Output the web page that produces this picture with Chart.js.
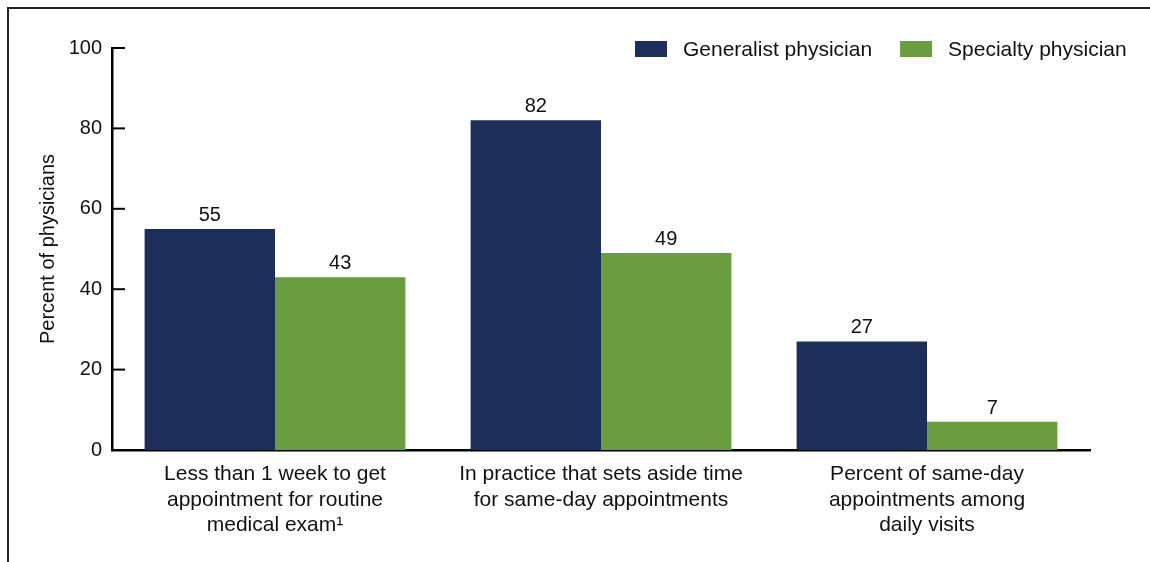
<!DOCTYPE html>
<html>
<head>
<meta charset="utf-8">
<script src="https://cdn.jsdelivr.net/npm/chart.js@4.4.1/dist/chart.umd.min.js"></script>
<style>
  body { margin: 0; background: #fff; }
  #wrap { position: relative; width: 1150px; height: 562px; }
  #frame { position: absolute; left: 7px; top: 7px; right: 0; bottom: 0; border-top: 2px solid #222; border-left: 2px solid #222; }
  canvas { position: absolute; left: 0; top: 0; }
</style>
</head>
<body>
<div id="wrap">
  <div id="frame"></div>
  <canvas id="chart" width="1150" height="562"></canvas>
</div>
<script>
// categorías y valores (porcentaje de médicos)
const categories = [
    ['Less than 1 week to get', 'appointment for routine', 'medical exam\u00B9'],
    ['In practice that sets aside time', 'for same-day appointments'],
    ['Percent of same-day', 'appointments among', 'daily visits']
];
const generalist = [55, 82, 27];
const specialty = [43, 49, 7];
const yTicks = [0, 20, 40, 60, 80, 100];

const navy = '#1c2f5a';
const green = '#6a9d40';
const fontFamily = '"Liberation Sans", Arial, sans-serif';

// etiquetas de valores, marcas del eje y leyenda
const extras = {
    id: 'extras',
    afterDatasetsDraw(chart) {
        const ctx = chart.ctx;
        const y = chart.scales.y;
        ctx.save();

        // marcas del eje y hacia dentro
        ctx.strokeStyle = '#000';
        ctx.lineWidth = 2;
        yTicks.forEach(v => {
            const py = y.getPixelForValue(v);
            ctx.beginPath();
            ctx.moveTo(chart.chartArea.left, py);
            ctx.lineTo(chart.chartArea.left + 13, py);
            ctx.stroke();
        });

        // valores sobre las barras
        ctx.fillStyle = '#111';
        ctx.font = '20px ' + fontFamily;
        ctx.textAlign = 'center';
        ctx.textBaseline = 'alphabetic';
        chart.data.datasets.forEach((ds, i) => {
            chart.getDatasetMeta(i).data.forEach((bar, j) => {
                ctx.fillText(String(ds.data[j]), bar.x, bar.y - 8);
            });
        });

        // leyenda
        let lx = 635;
        const ly = 49;
        ctx.font = '21px ' + fontFamily;
        ctx.textAlign = 'left';
        ctx.textBaseline = 'middle';
        chart.data.datasets.forEach(ds => {
            ctx.fillStyle = ds.backgroundColor;
            ctx.fillRect(lx, ly - 8, 32, 16);
            ctx.fillStyle = '#111';
            ctx.fillText(ds.label, lx + 48, ly + 1);
            lx += 48 + ctx.measureText(ds.label).width + 28;
        });
        ctx.restore();
    }
};

new Chart(document.getElementById('chart'), {
    type: 'bar',
    data: {
        labels: categories,
        datasets: [
            { label: 'Generalist physician', data: generalist, backgroundColor: navy },
            { label: 'Specialty physician', data: specialty, backgroundColor: green }
        ]
    },
    options: {
        responsive: false,
        animation: false,
        devicePixelRatio: 1,
        layout: { padding: { top: 48, right: 60, bottom: 0, left: 0 } },
        datasets: { bar: { categoryPercentage: 0.8, barPercentage: 1.0 } },
        plugins: {
            legend: { display: false },
            tooltip: { enabled: false }
        },
        scales: {
            x: {
                grid: { display: false, drawTicks: false },
                border: { color: '#000', width: 2.5 },
                ticks: {
                    color: '#111',
                    padding: 12,
                    maxRotation: 0,
                    font: { family: fontFamily, size: 21, lineHeight: 1.2 }
                },
                afterFit(scale) { scale.height = 112; }
            },
            y: {
                min: 0,
                max: 100,
                afterBuildTicks(scale) { scale.ticks = yTicks.map(v => ({ value: v })); },
                grid: { display: false, drawTicks: false },
                border: { color: '#000', width: 2.5 },
                ticks: {
                    color: '#111',
                    padding: 10,
                    font: { family: fontFamily, size: 20 }
                },
                title: {
                    display: true,
                    text: 'Percent of physicians',
                    color: '#111',
                    padding: { top: 36, bottom: 0 },
                    font: { family: fontFamily, size: 20 }
                },
                afterFit(scale) { scale.width = 112; }
            }
        }
    },
    plugins: [extras]
});
</script>
</body>
</html>
